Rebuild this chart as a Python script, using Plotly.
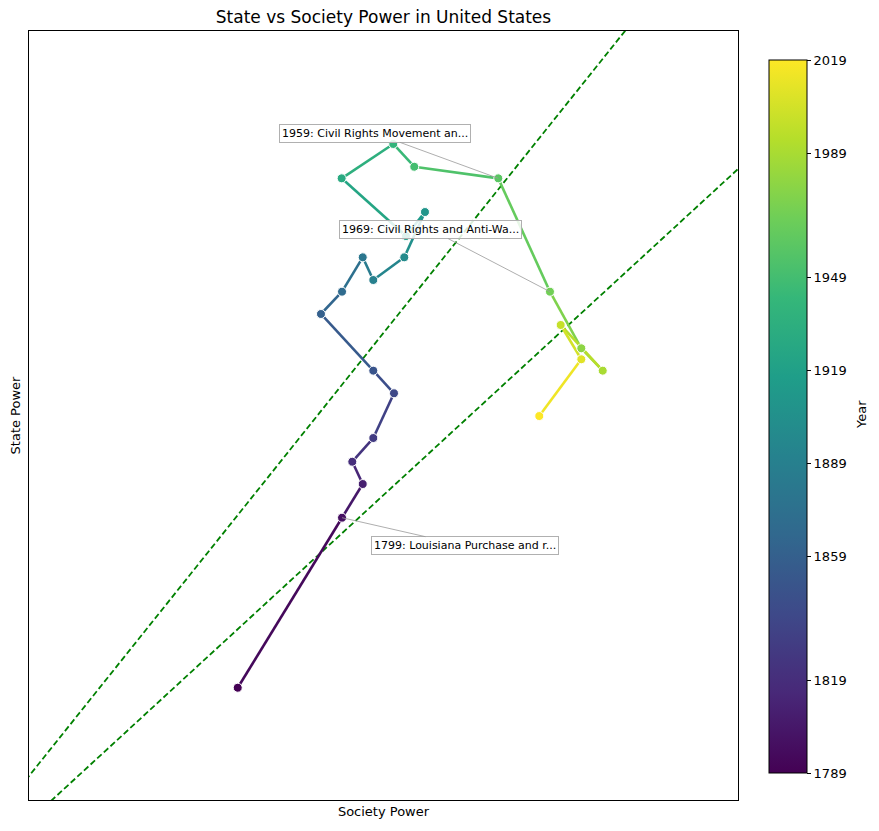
import plotly.graph_objects as go
from plotly.colors import sample_colorscale

# ---- data (arbitrary units, no tick labels on axes) ----
years = [1789, 1799, 1809, 1819, 1829, 1839, 1849, 1859, 1869, 1879, 1889, 1899,
         1909, 1919, 1929, 1939, 1949, 1959, 1969, 1979, 1989, 1999, 2009, 2019]
society_power = [29.44, 44.15, 47.07, 45.60, 48.56, 51.48, 48.56, 41.18, 44.15, 47.07, 48.56, 52.93,
                 55.85, 53.17, 44.10, 51.38, 54.34, 66.19, 73.48, 77.90, 80.92, 74.99, 77.90, 71.97]
state_power = [14.60, 36.71, 41.09, 43.99, 47.07, 52.89, 55.83, 63.20, 66.10, 70.57, 67.62, 70.57,
               76.46, 73.34, 80.84, 85.31, 82.35, 80.84, 66.10, 58.74, 55.83, 61.77, 57.31, 49.93]

annot_years = [1799, 1959, 1969]
annot_texts = ["1799: Louisiana Purchase and r...",
               "1959: Civil Rights Movement an...",
               "1969: Civil Rights and Anti-Wa..."]
annot_offsets = [(123, 28), (-123, -45), (-119, -62)]

# reference lines: intercept, slope
ref_lines = [(3.12, 1.1525), (-2.75, 0.848)]

cb_ticks = [1789, 1819, 1859, 1889, 1919, 1949, 1989, 2019]

x_range = [0, 100]
y_range = [0, 100]
ymin, ymax = years[0], years[-1]

fig = go.Figure()

# green dashed reference lines
for b, m in ref_lines:
    xs = [x_range[0] - 10, x_range[1] + 10]
    ys = [b + m * xv for xv in xs]
    fig.add_trace(go.Scatter(x=xs, y=ys, mode="lines",
                             line=dict(color="#008000", width=1.8, dash="6px,3px"),
                             hoverinfo="skip", showlegend=False))

# trajectory segments coloured by year
for i in range(len(years) - 1):
    mid = (years[i] + years[i + 1]) / 2
    col = sample_colorscale("Viridis", [(mid - ymin) / (ymax - ymin)])[0]
    fig.add_trace(go.Scatter(x=[society_power[i], society_power[i + 1]],
                             y=[state_power[i], state_power[i + 1]],
                             mode="lines", line=dict(color=col, width=2.6),
                             hoverinfo="skip", showlegend=False))

# markers + colorbar
fig.add_trace(go.Scatter(
    x=society_power, y=state_power, mode="markers",
    marker=dict(size=9, color=years, colorscale="Viridis", cmin=ymin, cmax=ymax,
                line=dict(color="white", width=1),
                colorbar=dict(
                    tickvals=cb_ticks, ticktext=[str(t) for t in cb_ticks],
                    ticks="outside", ticklen=4, tickcolor="black",
                    tickfont=dict(size=13, color="black"),
                    thickness=38, len=713, lenmode="pixels",
                    x=(769 - 29) / 709, xanchor="left", xpad=0,
                    y=(800 - 416.5) / 769, yanchor="middle", ypad=0,
                    outlinewidth=1, outlinecolor="black")),
    text=[str(y) for y in years], hoverinfo="text", showlegend=False))

for yr, txt, (ax, ay) in zip(annot_years, annot_texts, annot_offsets):
    i = years.index(yr)
    fig.add_annotation(x=society_power[i], y=state_power[i], text=txt,
                       showarrow=True, arrowhead=0, arrowwidth=0.8, arrowcolor="#999999",
                       ax=ax, ay=ay, bgcolor="rgba(255,255,255,0.85)",
                       bordercolor="#b0b0b0", borderwidth=1, borderpad=2,
                       font=dict(size=11, color="black", family="DejaVu Sans"))

# colorbar title
fig.add_annotation(text="Year", xref="paper", yref="paper",
                   x=(862 - 29) / 709, y=(800 - 415) / 769, showarrow=False,
                   textangle=-90, xanchor="center", yanchor="middle",
                   font=dict(size=13, color="black"))

fig.update_layout(
    width=879, height=831,
    margin=dict(l=29, r=141, t=31, b=31),
    plot_bgcolor="white", paper_bgcolor="white",
    font=dict(family="DejaVu Sans", color="black"),
    title=dict(text="State vs Society Power in United States", x=(29 + 738) / 2 / 879,
               xanchor="center", y=1 - 17 / 831, yanchor="middle", yref="container",
               font=dict(size=17, color="black")),
    xaxis=dict(range=x_range, showticklabels=False, ticks="", showgrid=False, zeroline=False,
               showline=True, linecolor="black", linewidth=1, mirror=True,
               title=dict(text="Society Power", standoff=6, font=dict(size=13))),
    yaxis=dict(range=y_range, showticklabels=False, ticks="", showgrid=False, zeroline=False,
               showline=True, linecolor="black", linewidth=1, mirror=True,
               title=dict(text="State Power", standoff=4, font=dict(size=13))),
)

fig.write_html("out.html")
